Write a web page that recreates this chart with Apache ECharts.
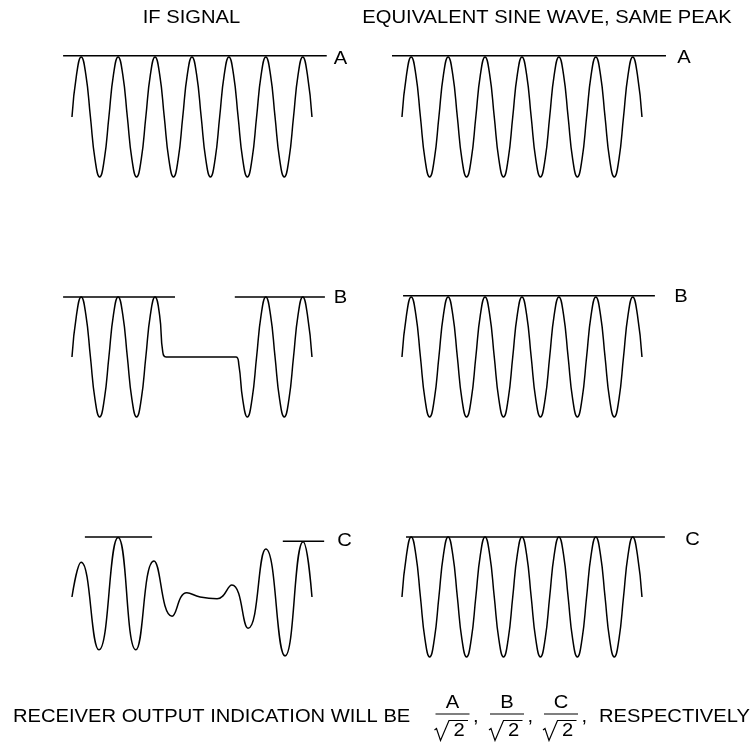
<!DOCTYPE html>
<html><head><meta charset="utf-8">
<script src="https://cdn.jsdelivr.net/npm/echarts@6/dist/echarts.min.js"></script>
<style>html,body{margin:0;padding:0;background:#fff}#c{width:756px;height:742px}</style>
</head><body><div id="c"></div>
<script>
// ---- text ----
const panelTitles = ['IF SIGNAL', 'EQUIVALENT SINE WAVE, SAME PEAK'];
const peakLabels = ['A', 'B', 'C'];
const footerText = 'RECEIVER OUTPUT INDICATION WILL BE';
const footerTail = 'RESPECTIVELY';
const fractionRoot = '2';

// ---- data: time in carrier cycles, amplitude relative to peak ----
const tSine = [0,0.125,0.25,0.375,0.5,0.625,0.75,0.875,1,1.125,1.25,1.375,1.5,1.625,1.75,1.875,2,2.125,2.25,2.375,2.5,2.625,2.75,2.875,3,3.125,3.25,3.375,3.5,3.625,3.75,3.875,4,4.125,4.25,4.375,4.5,4.625,4.75,4.875,5,5.125,5.25,5.375,5.5,5.625,5.75,5.875,6,6.125,6.25,6.375,6.5];
const vSine = [0,0.71,1,0.71,0,-0.71,-1,-0.71, 0,0.71,1,0.71,0,-0.71,-1,-0.71, 0,0.71,1,0.71,0,-0.71,-1,-0.71, 0,0.71,1,0.71,0,-0.71,-1,-0.71, 0,0.71,1,0.71,0,-0.71,-1,-0.71, 0,0.71,1,0.71,0,-0.71,-1,-0.71, 0,0.71,1,0.71,0];

const tIfA = tSine;
const vIfA = vSine;

const tIfB = [0,0.125,0.25,0.375,0.5,0.625,0.75,0.875,1,1.125,1.25,1.375,1.5,1.625,1.75,1.875,2,2.125,2.25,
  2.375,2.46,2.55,3,3.5,4,4.44,4.52,4.625,4.75,4.875,5,5.125,5.25,5.375,5.5,5.625,5.75,5.875,6,6.125,6.25,6.375,6.5];
const vIfB = [0,0.71,1,0.71,0,-0.71,-1,-0.71, 0,0.71,1,0.71,0,-0.71,-1,-0.71, 0,0.71,1,
  0.69,0.08,0,0,0,0,0,-0.13,-0.71,-1,-0.71,0,0.71,1,0.71,0,-0.71,-1,-0.71,0,0.71,1,0.71,0];

const tIfC = [0,0.25,0.73,1.25,1.73,2.22,2.71,3.11,3.47,3.93,4.33,4.77,5.25,5.77,6.26,6.5];
const vIfC = [0,0.58,-0.88,0.99,-0.88,0.6,-0.32,0.07,0.0,-0.03,0.2,-0.52,0.8,-0.98,0.92,0];

// peak reference lines: [start, end, level]
const refIfA = [[-0.24, 6.9, 1.02]];
const refIfB = [[-0.24, 2.79, 1.0], [4.41, 6.85, 1.0]];
const refIfC = [[0.35, 2.17, 1.0], [5.71, 6.83, 0.93]];
const refSineA = [[-0.27, 7.15, 1.02]];
const refSineB = [[0.03, 6.85, 1.02]];
const refSineC = [[0.11, 7.12, 1.0]];

// ---- layout ----
const colLeft = [53.5, 383.5];
const rowTop = [42, 282, 522];
const gridW = 295.4, gridH = 150;
const FONT = '"Liberation Sans", Arial, Helvetica, sans-serif';
const SX = 1.12;

const panels = [
  {col:0,row:0,t:tIfA,v:vIfA,ref:refIfA},
  {col:1,row:0,t:tSine,v:vSine,ref:refSineA},
  {col:0,row:1,t:tIfB,v:vIfB,ref:refIfB},
  {col:1,row:1,t:tSine,v:vSine,ref:refSineB},
  {col:0,row:2,t:tIfC,v:vIfC,ref:refIfC},
  {col:1,row:2,t:tSine,v:vSine,ref:refSineC}
];

const grid = [], xAxis = [], yAxis = [], series = [];
panels.forEach((p, i) => {
  grid.push({left: colLeft[p.col], top: rowTop[p.row], width: gridW, height: gridH, containLabel: false});
  xAxis.push({type:'value', gridIndex:i, min:-0.5, max:7.5, show:false});
  yAxis.push({type:'value', gridIndex:i, min:-1.25, max:1.25, show:false});
  series.push({
    type:'line', xAxisIndex:i, yAxisIndex:i, smooth:0.5, symbol:'none', silent:true,
    lineStyle:{color:'#000', width:1.5},
    data: p.t.map((t, k) => [t, p.v[k]])
  });
  p.ref.forEach(seg => {
    series.push({
      type:'line', xAxisIndex:i, yAxisIndex:i, symbol:'none', silent:true,
      lineStyle:{color:'#000', width:1.5},
      data: [[seg[0], seg[2]], [seg[1], seg[2]]]
    });
  });
});

function txt(text, x, y, opts) {
  opts = opts || {};
  return {type:'text', x:x, y:y, scaleX: opts.sx || SX, silent:true,
    style:{text:text, x:0, y:0, fill:'#000', fontFamily:FONT, fontSize: opts.fs || 18,
      align: opts.align || 'center', verticalAlign:'middle'}};
}

const graphic = [];
graphic.push(txt(panelTitles[0], 191.5, 18.5));
graphic.push(txt(panelTitles[1], 547, 18.5));
// peak labels
const labelPos = [[[340.5,59],[684,58]],[[340.5,298.5],[681,297.5]],[[344.5,541],[692.5,540]]];
peakLabels.forEach((l, r) => {
  graphic.push(txt(l, labelPos[r][0][0], labelPos[r][0][1]));
  graphic.push(txt(l, labelPos[r][1][0], labelPos[r][1][1]));
});
// footer
graphic.push(txt(footerText, 13, 717, {align:'left'}));
graphic.push(txt(footerTail, 599, 717, {align:'left'}));
const fracX = [452.5, 507, 561];
peakLabels.forEach((l, i) => {
  const cx = fracX[i];
  graphic.push(txt(l, cx, 703.5, {fs:18}));
  graphic.push({type:'line', silent:true, shape:{x1:cx-17, y1:714, x2:cx+17, y2:714}, style:{stroke:'#000', lineWidth:1.2}});
  graphic.push({type:'polyline', silent:true, shape:{points:[[cx-18,730],[cx-16,728.5],[cx-12,740.5],[cx-3.5,720.5],[cx+15.5,720.5]]}, style:{stroke:'#000', lineWidth:1.2, fill:null}});
  graphic.push(txt(fractionRoot, cx+6.5, 731.5, {fs:18}));
  graphic.push(txt(',', cx+20.5, 717, {align:'left'}));
});

const chart = echarts.init(document.getElementById('c'), null, {renderer:'canvas'});
chart.setOption({animation:false, backgroundColor:'#fff', grid, xAxis, yAxis, series, graphic});
</script></body></html>
